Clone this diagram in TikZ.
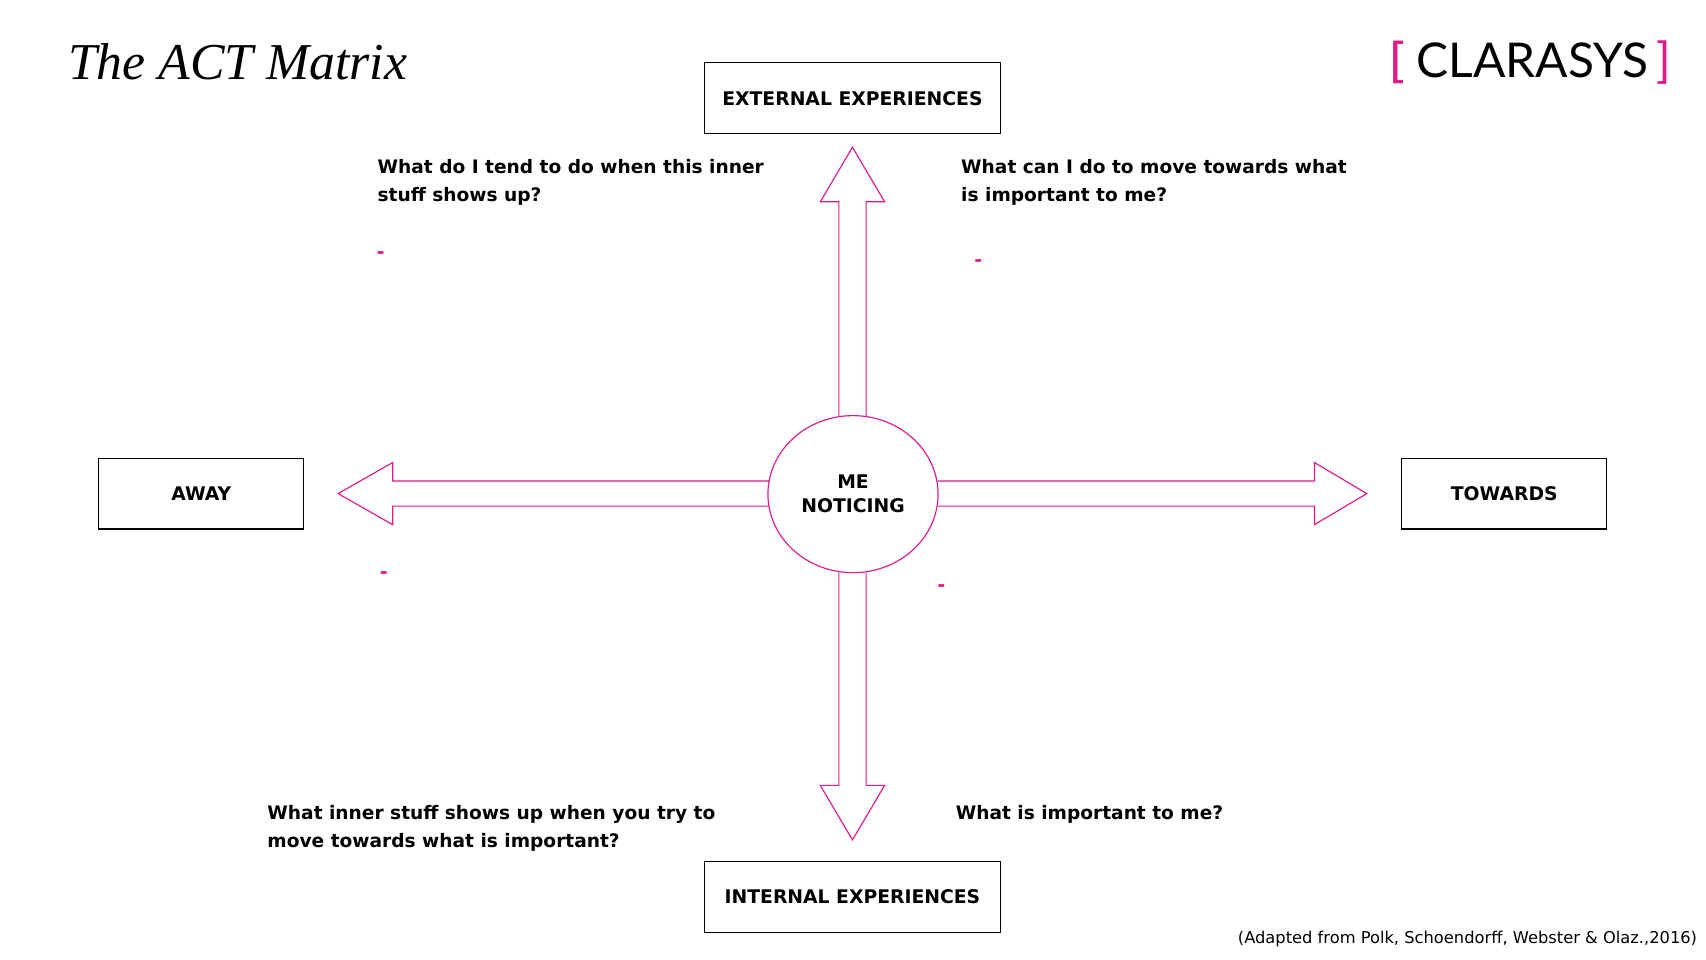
\documentclass[tikz,border=0pt]{standalone}
\usepackage{fontspec}
\setmainfont{DejaVu Sans}
\usetikzlibrary{positioning,shapes.geometric}
\definecolor{clarapink}{HTML}{E0198A}
\begin{document}
\begin{tikzpicture}[x=0.02cm,y=-0.02cm,
            box/.style = {draw, line width=0.6pt, minimum width=5.42cm, minimum height=1.3cm,
                font=\fontsize{9.8}{12}\selectfont\bfseries},
            side/.style = {box, minimum width=3.76cm},
            blockarrow/.style = {draw=clarapink, fill=white, line width=0.6pt},
            question/.style = {anchor=north west, align=left,
                font=\fontsize{9.7}{14.5}\selectfont\bfseries},
            bullet/.style = {text=clarapink, font=\fontsize{10}{12}\selectfont\bfseries},
            ]

        \useasboundingbox (0,0) rectangle (1564,880);

        % Title and logo
        \node[anchor=west, inner sep=0pt, font=\fontsize{27}{30}\selectfont] (title) at (62,57)
            {\fontspec{Liberation Serif}\itshape The ACT Matrix};
        \node[anchor=east, inner sep=0pt, font=\fontsize{25}{27}\selectfont] (logo) at (1532,57)
            {\textcolor{clarapink}{[}\,\fontspec{Lato}CLARASYS\,\textcolor{clarapink}{]}};

        % Block arrows
        \draw[blockarrow] (769,382) -- (769,185) -- (752,185) -- (781.5,135)
            -- (811,185) -- (794,185) -- (794,382);
        \draw[blockarrow] (769,525) -- (769,720) -- (752,720) -- (781.5,770)
            -- (811,720) -- (794,720) -- (794,525);
        \draw[blockarrow] (705,441) -- (360,441) -- (360,424) -- (310,452.5)
            -- (360,481) -- (360,464) -- (705,464);
        \draw[blockarrow] (860,441) -- (1205,441) -- (1205,424) -- (1253,452.5)
            -- (1205,481) -- (1205,464) -- (860,464);

        % Centre
        \node[draw=clarapink, ellipse, line width=0.6pt, fill=white, minimum width=3.12cm,
            minimum height=2.88cm, inner sep=0pt, align=center, font=\fontsize{9.8}{12.5}\selectfont\bfseries]
            (me) at (782,453) {ME\\NOTICING};

        % Boxes
        \node[box] (ext) at (781.5,90) {EXTERNAL EXPERIENCES};
        \node[box] (int) at (781.5,822) {INTERNAL EXPERIENCES};
        \node[side] (away) at (184.5,452.5) {AWAY};
        \node[side] (towards) at (1379,452.5) {TOWARDS};

        % Questions
        \node[question] (qtl) at (340,140) {What do I tend to do when this inner\\stuff shows up?};
        \node[question] (qtr) at (875,140) {What can I do to move towards what\\is important to me?};
        \node[question] (qbl) at (239,732) {What inner stuff shows up when you try to\\move towards what is important?};
        \node[question] (qbr) at (870,732) {What is important to me?};

        % Dashes
        \node[bullet] (d1) at (349,234) {-};
        \node[bullet] (d2) at (897,241) {-};
        \node[bullet] (d3) at (352,527) {-};
        \node[bullet] (d4) at (863,539) {-};

        % Source
        \node[anchor=east, font=\fontsize{8.5}{10}\selectfont] (src) at (1562,861)
            {(Adapted from Polk, Schoendorff, Webster \& Olaz.,2016)};

        \end{tikzpicture}
\end{document}
